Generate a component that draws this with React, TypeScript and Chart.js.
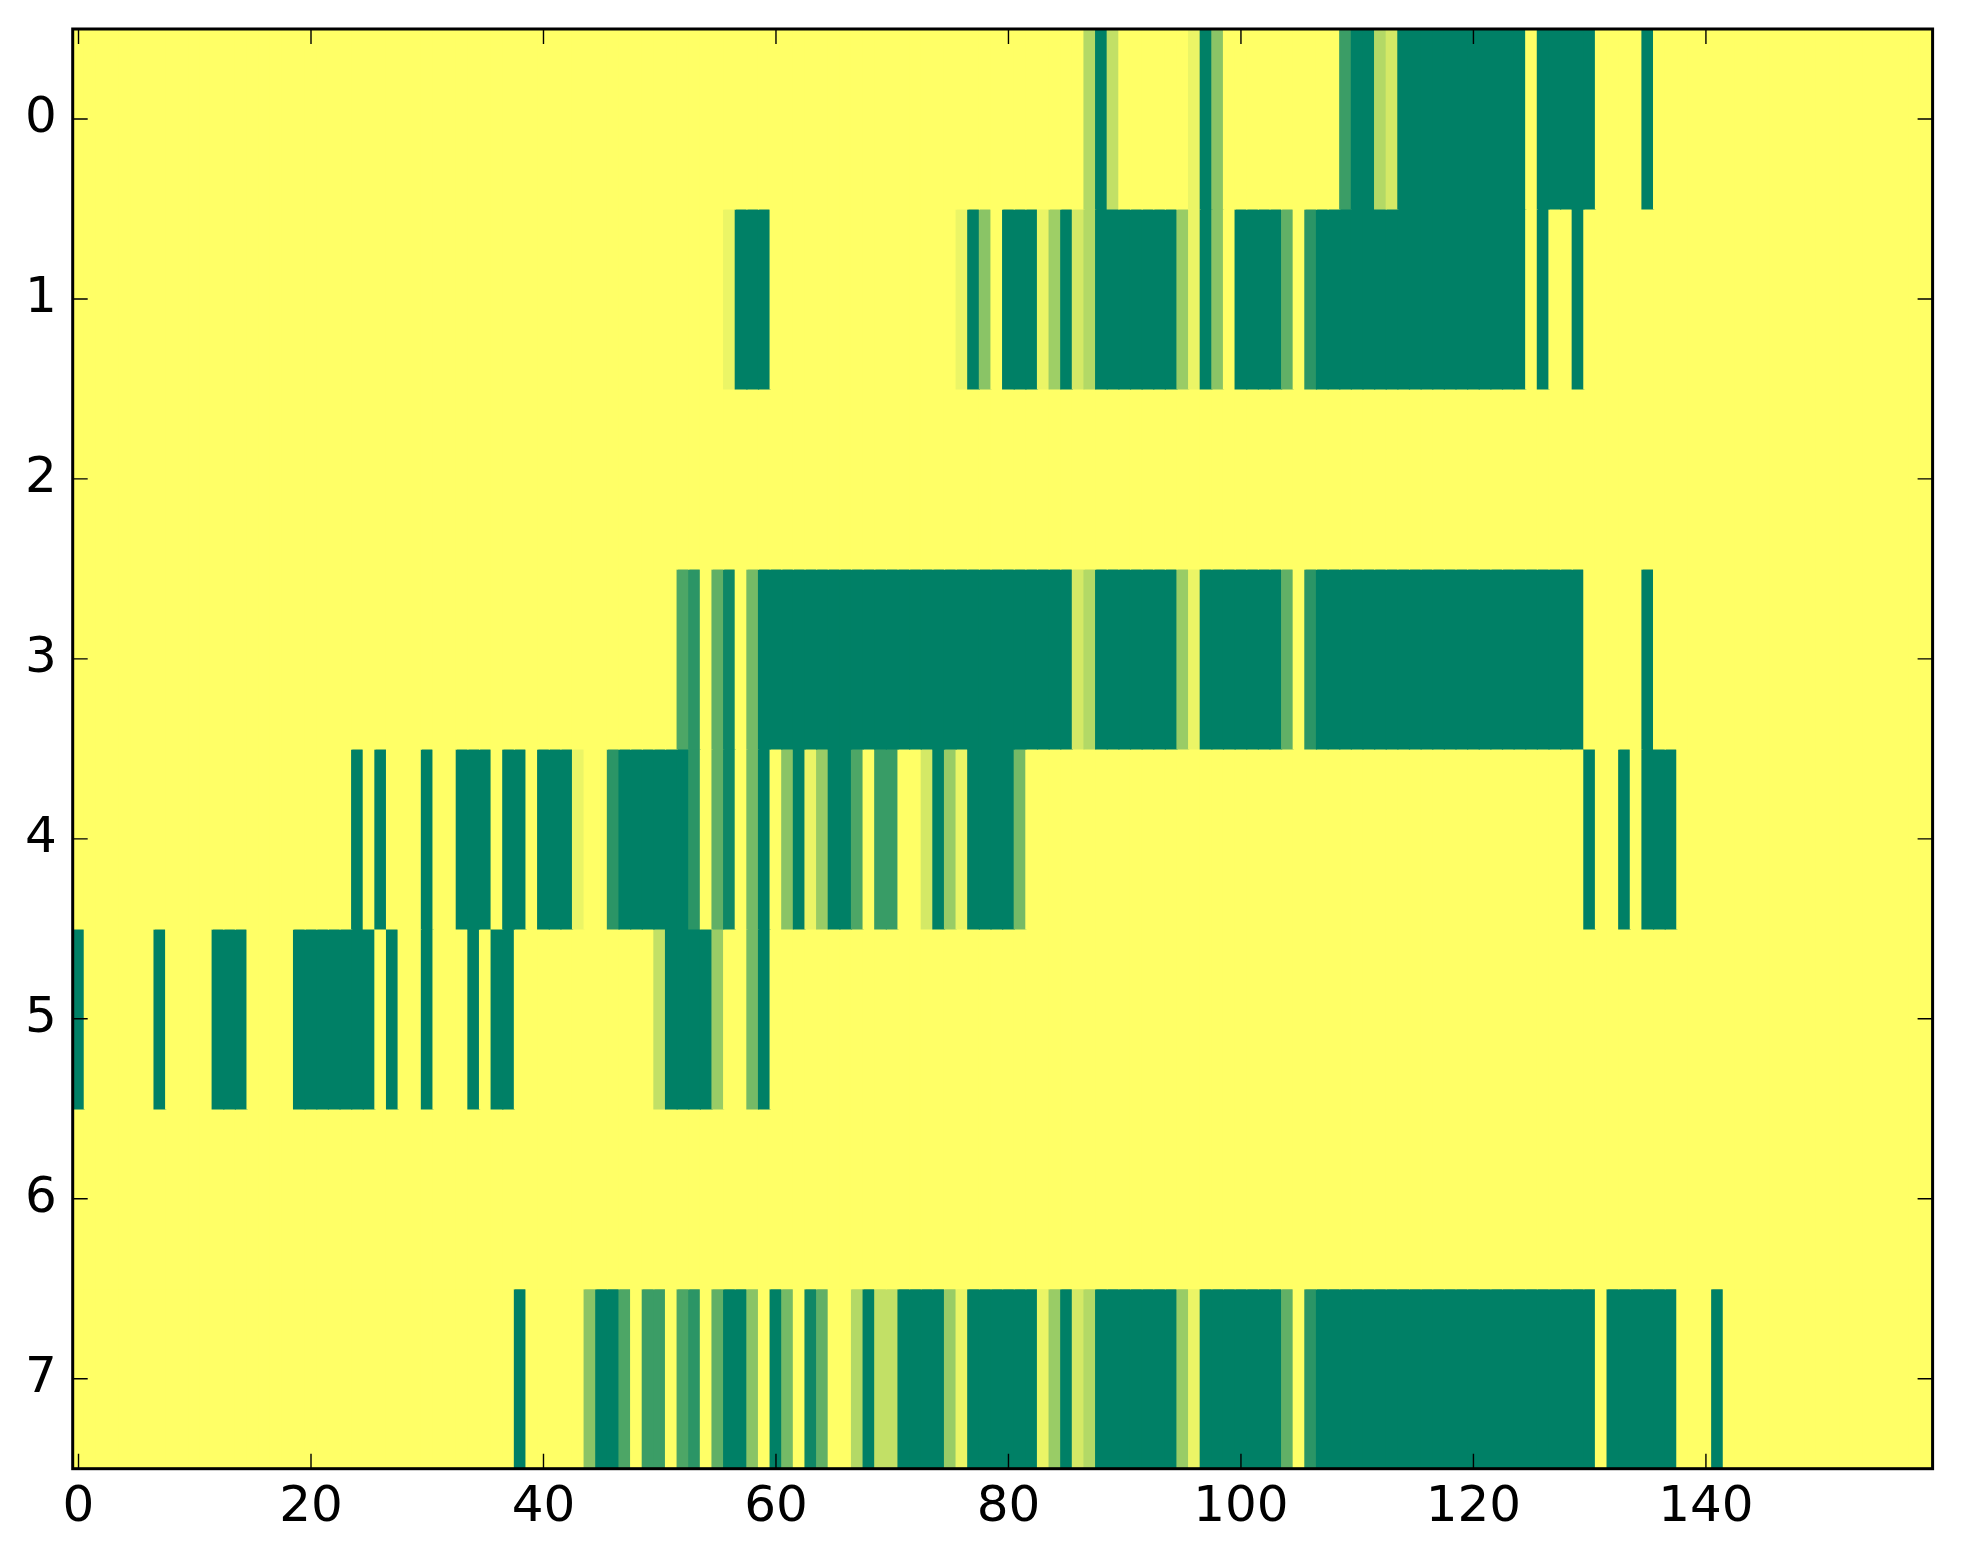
import React, { useEffect, useRef } from "react";
import { Chart, registerables } from "chart.js";

Chart.register(...registerables);

// Heat-map rows (0 = yellow, 1 = dark green), 160 columns each
const row0 = [
  0,0,0,0,0,0,0,0,0,0,0,0,0,0,0,0,0,0,0,0,
  0,0,0,0,0,0,0,0,0,0,0,0,0,0,0,0,0,0,0,0,
  0,0,0,0,0,0,0,0,0,0,0,0,0,0,0,0,0,0,0,0,
  0,0,0,0,0,0,0,0,0,0,0,0,0,0,0,0,0,0,0,0,
  0,0,0,0,0,0,0,0.3,1,0.24,0,0,0,0,0,0,0.08,1,0.46,0,
  0,0,0,0,0,0,0,0,0,0.77,1,1,0.3,0.17,1,1,1,1,1,1,
  1,1,1,1,1,0,1,1,1,1,1,0,0,0,0,1,0,0,0,0,
  0,0,0,0,0,0,0,0,0,0,0,0,0,0,0,0,0,0,0,0,
];
const row1 = [
  0,0,0,0,0,0,0,0,0,0,0,0,0,0,0,0,0,0,0,0,
  0,0,0,0,0,0,0,0,0,0,0,0,0,0,0,0,0,0,0,0,
  0,0,0,0,0,0,0,0,0,0,0,0,0,0,0,0,0.08,1,1,1,
  0,0,0,0,0,0,0,0,0,0,0,0,0,0,0,0,0.08,1,0.46,0,
  1,1,1,0.08,0.38,1,0.17,0.3,1,1,1,1,1,1,1,0.4,0.08,1,0.46,0,
  1,1,1,1,0.62,0,0.83,1,1,1,1,1,1,1,1,1,1,1,1,1,
  1,1,1,1,1,0,1,0,0,1,0,0,0,0,0,0,0,0,0,0,
  0,0,0,0,0,0,0,0,0,0,0,0,0,0,0,0,0,0,0,0,
];
const row2 = [
  0,0,0,0,0,0,0,0,0,0,0,0,0,0,0,0,0,0,0,0,
  0,0,0,0,0,0,0,0,0,0,0,0,0,0,0,0,0,0,0,0,
  0,0,0,0,0,0,0,0,0,0,0,0,0,0,0,0,0,0,0,0,
  0,0,0,0,0,0,0,0,0,0,0,0,0,0,0,0,0,0,0,0,
  0,0,0,0,0,0,0,0,0,0,0,0,0,0,0,0,0,0,0,0,
  0,0,0,0,0,0,0,0,0,0,0,0,0,0,0,0,0,0,0,0,
  0,0,0,0,0,0,0,0,0,0,0,0,0,0,0,0,0,0,0,0,
  0,0,0,0,0,0,0,0,0,0,0,0,0,0,0,0,0,0,0,0,
];
const row3 = [
  0,0,0,0,0,0,0,0,0,0,0,0,0,0,0,0,0,0,0,0,
  0,0,0,0,0,0,0,0,0,0,0,0,0,0,0,0,0,0,0,0,
  0,0,0,0,0,0,0,0,0,0,0,0,0.7,0.83,0,0.62,0.94,0,0.54,1,
  1,1,1,1,1,1,1,1,1,1,1,1,1,1,1,1,1,1,1,1,
  1,1,1,1,1,1,0.17,0.3,1,1,1,1,1,1,1,0.4,0.08,1,1,1,
  1,1,1,1,0.62,0,0.83,1,1,1,1,1,1,1,1,1,1,1,1,1,
  1,1,1,1,1,1,1,1,1,1,0,0,0,0,0,1,0,0,0,0,
  0,0,0,0,0,0,0,0,0,0,0,0,0,0,0,0,0,0,0,0,
];
const row4 = [
  0,0,0,0,0,0,0,0,0,0,0,0,0,0,0,0,0,0,0,0,
  0,0,0,0,1,0,1,0,0,0,1,0,0,1,1,1,0,1,1,0,
  1,1,1,0.08,0,0,0.83,1,1,1,1,1,1,0.83,0,0.62,0.94,0,0.54,1,
  0,0.46,1,0.08,0.4,1,1,0.7,0,0.78,0.78,0,0,0.17,1,0.4,0.08,1,1,1,
  1,0.54,0,0,0,0,0,0,0,0,0,0,0,0,0,0,0,0,0,0,
  0,0,0,0,0,0,0,0,0,0,0,0,0,0,0,0,0,0,0,0,
  0,0,0,0,0,0,0,0,0,0,1,0,0,1,0,1,1,1,0,0,
  0,0,0,0,0,0,0,0,0,0,0,0,0,0,0,0,0,0,0,0,
];
const row5 = [
  1,0,0,0,0,0,0,1,0,0,0,0,1,1,1,0,0,0,0,1,
  1,1,1,1,1,1,0,1,0,0,1,0,0,0,1,0,1,1,0,0,
  0,0,0,0,0,0,0,0,0,0,0.24,1,1,1,1,0.4,0,0,0.54,1,
  0,0,0,0,0,0,0,0,0,0,0,0,0,0,0,0,0,0,0,0,
  0,0,0,0,0,0,0,0,0,0,0,0,0,0,0,0,0,0,0,0,
  0,0,0,0,0,0,0,0,0,0,0,0,0,0,0,0,0,0,0,0,
  0,0,0,0,0,0,0,0,0,0,0,0,0,0,0,0,0,0,0,0,
  0,0,0,0,0,0,0,0,0,0,0,0,0,0,0,0,0,0,0,0,
];
const row6 = [
  0,0,0,0,0,0,0,0,0,0,0,0,0,0,0,0,0,0,0,0,
  0,0,0,0,0,0,0,0,0,0,0,0,0,0,0,0,0,0,0,0,
  0,0,0,0,0,0,0,0,0,0,0,0,0,0,0,0,0,0,0,0,
  0,0,0,0,0,0,0,0,0,0,0,0,0,0,0,0,0,0,0,0,
  0,0,0,0,0,0,0,0,0,0,0,0,0,0,0,0,0,0,0,0,
  0,0,0,0,0,0,0,0,0,0,0,0,0,0,0,0,0,0,0,0,
  0,0,0,0,0,0,0,0,0,0,0,0,0,0,0,0,0,0,0,0,
  0,0,0,0,0,0,0,0,0,0,0,0,0,0,0,0,0,0,0,0,
];
const row7 = [
  0,0,0,0,0,0,0,0,0,0,0,0,0,0,0,0,0,0,0,0,
  0,0,0,0,0,0,0,0,0,0,0,0,0,0,0,0,0,0,1,0,
  0,0,0,0,0.46,1,1,0.7,0,0.77,0.77,0,0.7,0.83,0,0.62,1,1,0.46,0,
  1,0.54,0,0.94,0.62,0,0,0.3,1,0.24,0.24,1,1,1,1,0.4,0.08,1,1,1,
  1,1,1,0.08,0.4,1,0.17,0.3,1,1,1,1,1,1,1,0.4,0.08,1,1,1,
  1,1,1,1,0.62,0,0.83,1,1,1,1,1,1,1,1,1,1,1,1,1,
  1,1,1,1,1,1,1,1,1,1,1,0,1,1,1,1,1,1,0,0,
  0,1,0,0,0,0,0,0,0,0,0,0,0,0,0,0,0,0,0,0,
];

const rowIndex = [0, 1, 2, 3, 4, 5, 6, 7];
const rows = [row0, row1, row2, row3, row4, row5, row6, row7];
const xTickValues = [0, 20, 40, 60, 80, 100, 120, 140];
const yTickValues = [0, 1, 2, 3, 4, 5, 6, 7];

// matplotlib "summer_r" colormap
function summerR(v: number): string {
  const r = Math.round(255 * (1 - v));
  const g = Math.round(255 * (1 - 0.5 * v));
  return `rgb(${r},${g},102)`;
}

const frameAndTicks = {
  id: "frameAndTicks",
  afterDatasetsDraw(chart: any) {
    const { ctx, chartArea: a, scales } = chart;
    const L = 15;
    ctx.save();
    ctx.strokeStyle = "#000";
    ctx.lineWidth = 1.4;
    ctx.beginPath();
    xTickValues.forEach((v) => {
      const x = scales.x.getPixelForValue(v);
      ctx.moveTo(x, a.bottom);
      ctx.lineTo(x, a.bottom - L);
      ctx.moveTo(x, a.top);
      ctx.lineTo(x, a.top + L);
    });
    yTickValues.forEach((v) => {
      const y = scales.y.getPixelForValue(v);
      ctx.moveTo(a.left, y);
      ctx.lineTo(a.left + L, y);
      ctx.moveTo(a.right, y);
      ctx.lineTo(a.right - L, y);
    });
    ctx.stroke();
    ctx.lineWidth = 3;
    ctx.strokeRect(a.left, a.top, a.right - a.left, a.bottom - a.top);
    ctx.restore();
  },
};

export default function App() {
  const canvasRef = useRef<HTMLCanvasElement | null>(null);

  useEffect(() => {
    if (!canvasRef.current) return;
    const tickFont = { family: "'DejaVu Sans', sans-serif", size: 50 };
    const chart = new Chart(canvasRef.current, {
      type: "bar",
      data: {
        datasets: rows.map((vals, i) => ({
          label: `row ${rowIndex[i]}`,
          data: vals.map((v, c) => ({ x: c, y: [rowIndex[i] - 0.5, rowIndex[i] + 0.5] })),
          backgroundColor: vals.map(summerR),
          borderWidth: 0,
          barPercentage: 1,
          categoryPercentage: 1,
          grouped: false,
          inflateAmount: 0.6,
        })) as any,
      },
      options: {
        animation: false,
        responsive: false,
        devicePixelRatio: 1,
        layout: { padding: { left: 0, right: 30.4, top: 29, bottom: 0 } },
        plugins: { legend: { display: false }, tooltip: { enabled: false } },
        scales: {
          x: {
            type: "linear",
            position: "bottom",
            min: -0.5,
            max: 159.5,
            offset: false,
            grid: { display: false, drawTicks: false },
            border: { display: false },
            afterBuildTicks: (s: any) => {
              s.ticks = xTickValues.map((v) => ({ value: v }));
            },
            afterFit: (s: any) => {
              s.height = 95.3;
              s.paddingLeft = 0;
              s.paddingRight = 0;
            },
            ticks: {
              font: tickFont,
              color: "#000",
              padding: 9,
              maxRotation: 0,
              autoSkip: false,
              callback: (v: any) => String(v),
            },
          },
          y: {
            type: "linear",
            reverse: true,
            min: -0.5,
            max: 7.5,
            grid: { display: false, drawTicks: false },
            border: { display: false },
            afterBuildTicks: (s: any) => {
              s.ticks = yTickValues.map((v) => ({ value: v }));
            },
            afterFit: (s: any) => {
              s.width = 72.7;
              s.paddingTop = 0;
              s.paddingBottom = 0;
            },
            ticks: {
              font: tickFont,
              color: "#000",
              padding: 16,
              autoSkip: false,
              callback: (v: any) => String(v),
            },
          },
        },
      } as any,
      plugins: [frameAndTicks],
    });
    return () => chart.destroy();
  }, []);

  return (
    <div style={{ position: "absolute", left: 0, top: 0, width: 1963, height: 1564, background: "#fff" }}>
      <canvas ref={canvasRef} width={1963} height={1564} style={{ display: "block", width: 1963, height: 1564 }} />
    </div>
  );
}
